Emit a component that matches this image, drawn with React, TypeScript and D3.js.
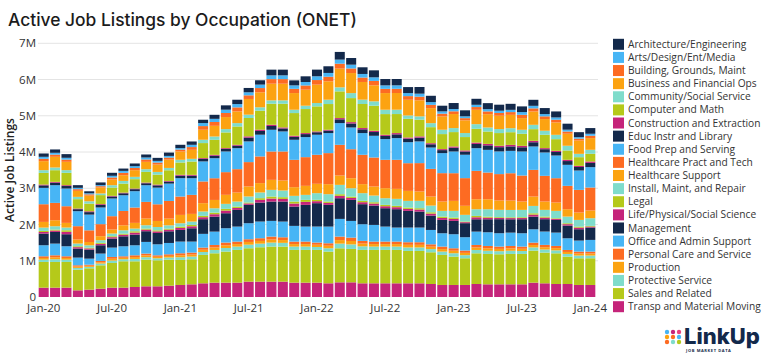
import React from "react";
import * as d3 from "d3";

const months = [
  "Jan-20","Feb-20","Mar-20","Apr-20","May-20","Jun-20","Jul-20","Aug-20","Sep-20","Oct-20","Nov-20","Dec-20",
  "Jan-21","Feb-21","Mar-21","Apr-21","May-21","Jun-21","Jul-21","Aug-21","Sep-21","Oct-21","Nov-21","Dec-21",
  "Jan-22","Feb-22","Mar-22","Apr-22","May-22","Jun-22","Jul-22","Aug-22","Sep-22","Oct-22","Nov-22","Dec-22",
  "Jan-23","Feb-23","Mar-23","Apr-23","May-23","Jun-23","Jul-23","Aug-23","Sep-23","Oct-23","Nov-23","Dec-23",
  "Jan-24"
];
const xTickLabels = ["Jan-20","Jul-20","Jan-21","Jul-21","Jan-22","Jul-22","Jan-23","Jul-23","Jan-24"];
const yTickValues = [0, 1000, 2000, 3000, 4000, 5000, 6000, 7000];
const yTickLabels = ["0", "1M", "2M", "3M", "4M", "5M", "6M", "7M"];

// values in thousands of listings
const architecture = [92,92,101,74,55,74,83,64,74,83,83,92,92,92,92,111,120,120,120,120,157,157,138,157,184,184,212,184,184,193,175,175,166,184,175,157,166,166,166,166,166,166,157,166,166,166,166,138,157];
const arts = [54,50,50,37,29,29,46,54,50,54,46,46,41,62,83,87,91,91,83,95,104,104,95,95,104,104,112,104,99,99,95,95,83,83,75,62,62,50,62,62,62,62,75,70,62,62,50,41,54];
const building = [66,61,61,46,35,35,56,66,61,66,56,56,51,76,101,106,112,112,101,117,127,127,117,117,127,127,137,127,122,122,117,117,101,101,91,76,76,61,76,76,76,76,91,86,76,76,61,51,66];
const business = [249,295,230,166,157,166,157,157,184,203,203,230,230,249,276,295,332,322,433,414,460,460,460,442,507,507,516,553,488,442,460,460,433,442,414,368,387,350,396,368,368,368,322,368,322,341,332,368,322];
const community = [74,74,74,64,64,46,64,74,64,74,74,64,74,74,92,92,92,92,92,92,92,92,92,92,92,120,111,138,120,120,120,120,92,92,111,120,111,111,129,111,111,111,111,120,111,120,129,92,111];
const computer = [322,322,341,258,212,249,230,249,258,295,276,295,341,368,414,414,433,507,507,525,580,654,626,663,691,709,737,663,663,691,571,525,516,460,442,414,396,368,378,341,350,350,332,322,368,322,258,239,212];
const construction = [23,23,23,18,23,23,18,18,18,18,21,18,23,23,23,23,23,23,35,35,35,28,28,28,23,23,35,37,35,35,30,35,32,35,30,28,35,30,39,41,39,41,39,39,30,32,35,32,39];
const educ = [69,69,69,55,69,69,55,55,55,55,62,55,69,69,69,69,69,69,104,104,104,83,83,83,69,69,104,111,104,104,90,104,97,104,90,83,104,90,117,124,117,124,117,117,90,97,104,97,117];
const foodPrep = [451,488,488,414,433,460,488,433,451,460,460,479,507,460,553,553,571,580,571,599,599,553,553,553,553,553,599,599,599,599,571,599,580,599,589,553,599,645,626,626,626,617,663,645,645,626,580,534,562];
const healthPract = [488,479,460,368,322,332,368,396,424,460,460,488,507,525,599,599,626,645,672,737,783,801,755,792,801,857,847,801,810,801,783,801,764,783,764,783,764,764,783,737,728,755,718,737,709,672,645,626,635];
const healthSupport = [157,166,129,111,92,111,111,138,157,184,166,184,230,212,230,230,249,249,276,258,276,276,239,249,258,276,258,276,249,249,276,276,276,258,249,258,276,249,276,276,258,258,230,258,230,230,203,203,212];
const install = [92,92,74,74,64,74,74,92,74,92,92,92,92,92,120,120,138,138,166,157,184,184,157,138,184,203,258,230,212,184,184,193,184,203,184,157,184,184,184,203,203,203,203,203,184,203,184,184,212];
const legal = [29,26,44,26,22,26,26,29,37,29,29,29,37,37,37,44,48,37,26,48,55,48,55,55,37,37,44,37,37,37,37,37,37,37,37,37,37,18,37,29,22,22,22,37,29,18,26,29,18];
const life = [44,39,66,39,33,39,39,44,55,44,44,44,55,55,55,66,72,55,39,72,83,72,83,83,55,55,66,55,55,55,55,55,55,55,55,55,55,28,55,44,33,33,33,55,44,28,39,44,28];
const management = [322,322,332,249,249,230,249,276,295,295,313,322,322,368,405,414,414,460,507,525,534,553,534,599,645,599,571,580,553,534,507,507,460,442,396,368,368,387,341,359,387,368,387,350,341,350,350,313,341];
const office = [304,322,276,212,166,203,258,276,276,322,304,313,322,304,378,368,396,414,442,460,433,433,433,414,442,460,488,460,460,460,414,387,405,405,396,368,387,368,368,378,368,368,368,368,368,368,322,304,322];
const personal = [47,55,47,36,30,36,50,41,50,50,41,44,55,55,61,69,75,69,75,75,83,77,69,69,61,69,97,94,75,69,69,69,72,72,66,69,69,64,69,66,64,66,61,66,64,61,55,55,55];
const production = [47,55,47,36,30,36,50,41,50,50,41,44,55,55,61,69,75,69,75,75,83,77,69,69,61,69,97,94,75,69,69,69,72,72,66,69,69,64,69,66,64,66,61,66,64,61,55,55,55];
const protective = [63,74,63,48,40,48,66,55,66,66,55,59,74,74,81,92,99,92,99,99,110,103,92,92,81,92,129,125,99,92,92,92,96,96,88,92,92,85,92,88,85,88,81,88,85,81,74,74,74];
const sales = [709,709,709,571,589,645,681,728,709,737,718,718,691,691,783,810,857,903,921,949,967,967,903,903,903,875,939,921,921,921,921,921,893,893,875,829,783,737,847,838,829,838,838,884,847,847,755,737,737];
const transp = [258,258,258,184,203,230,258,258,276,295,295,313,332,350,378,396,396,396,424,424,424,424,396,396,396,378,405,405,378,378,378,378,378,378,359,332,332,332,359,350,350,350,350,396,378,359,359,332,332];

const seriesNames = [
  "Architecture/Engineering","Arts/Design/Ent/Media","Building, Grounds, Maint","Business and Financial Ops",
  "Community/Social Service","Computer and Math","Construction and Extraction","Educ Instr and Library",
  "Food Prep and Serving","Healthcare Pract and Tech","Healthcare Support","Install, Maint, and Repair",
  "Legal","Life/Physical/Social Science","Management","Office and Admin Support","Personal Care and Service",
  "Production","Protective Service","Sales and Related","Transp and Material Moving"
];
const seriesValues = [
  architecture, arts, building, business, community, computer, construction, educ, foodPrep, healthPract,
  healthSupport, install, legal, life, management, office, personal, production, protective, sales, transp
];
const palette = ["#13294b", "#47b5f5", "#fd6b22", "#fca311", "#7fdccb", "#b5c91a", "#c5247a"];
const logoDots = ["#47b5f5", "#c5247a", "#e8407e", "#fca311", "#fd6b22", "#47b5f5", "#fd6b22", "#7fdccb", "#b5c91a"];

export default function App() {
  const W = 768, H = 356;
  const x = d3.scaleBand<string>().domain(months).range([38, 596]).paddingInner(0.12).paddingOuter(0.06);
  const y = d3.scaleLinear().domain([0, 7000]).range([297, 43.3]);
  const color = d3.scaleOrdinal<string, string>().domain(seriesNames).range(seriesNames.map((_, i) => palette[i % palette.length]));

  const rows = months.map((m, i) => {
    const r: any = { month: m };
    seriesNames.forEach((n, j) => { r[n] = seriesValues[j][i]; });
    return r;
  });
  const keys = [...seriesNames].reverse();
  const stacked = d3.stack<any>().keys(keys)(rows);

  const legendY = d3.scalePoint<string>().domain(seriesNames).range([44.3, 306.7]);
  const font = "'Open Sans', 'Noto Sans', sans-serif";

  return (
    <svg width={W} height={H} style={{ position: "absolute", left: 0, top: 0, background: "#fff" }}>
      <rect width={W} height={H} fill="#fff" />
      <text x={8} y={26} fontFamily="Inter, 'Open Sans', sans-serif" fontSize={17.4} fontWeight={500} fill="#1b1b1b">
        Active Job Listings by Occupation (ONET)
      </text>
      {yTickValues.map((v, i) => (
        <g key={v}>
          {v > 0 && <line x1={38} x2={598} y1={y(v)} y2={y(v)} stroke="#e4e4e4" strokeWidth={1} />}
          <text x={36} y={y(v)} dy="0.35em" textAnchor="end" fontFamily={font} fontSize={11.5} fill="#333">
            {yTickLabels[i]}
          </text>
        </g>
      ))}
      <text transform={`translate(14,170) rotate(-90)`} textAnchor="middle" fontFamily={font} fontSize={12} fontWeight={600} fill="#222">
        Active Job Listings
      </text>
      {stacked.map((layer) => (
        <g key={layer.key} fill={color(layer.key)}>
          {layer.map((d, i) => (
            <rect key={i} x={x(months[i])} width={x.bandwidth()} y={y(d[1])} height={Math.max(0, y(d[0]) - y(d[1]))} />
          ))}
        </g>
      ))}
      {xTickLabels.map((t) => (
        <text key={t} x={(x(t) ?? 0) + x.bandwidth() / 2} y={312} textAnchor="middle" fontFamily={font} fontSize={11.5} fill="#333">
          {t}
        </text>
      ))}
      {seriesNames.map((n) => (
        <g key={n} transform={`translate(613,${legendY(n)})`}>
          <rect x={0} y={-5.5} width={11} height={11} fill={color(n)} />
          <text x={15} y={0} dy="0.35em" fontFamily={font} fontSize={10.2} fill="#333">{n}</text>
        </g>
      ))}
      <g>
        {logoDots.map((c, i) => (
          <circle key={i} cx={667 + (i % 3) * 6} cy={332 + Math.floor(i / 3) * 5} r={2.2} fill={c} />
        ))}
        <text x={684} y={344} fontFamily="Inter, 'Open Sans', sans-serif" fontSize={22} fontWeight={800} fill="#13294b">LinkUp</text>
        <text x={686} y={351.5} fontFamily={font} fontSize={4} fontWeight={700} fill="#13294b" letterSpacing={0.6}>JOB MARKET DATA</text>
      </g>
    </svg>
  );
}
